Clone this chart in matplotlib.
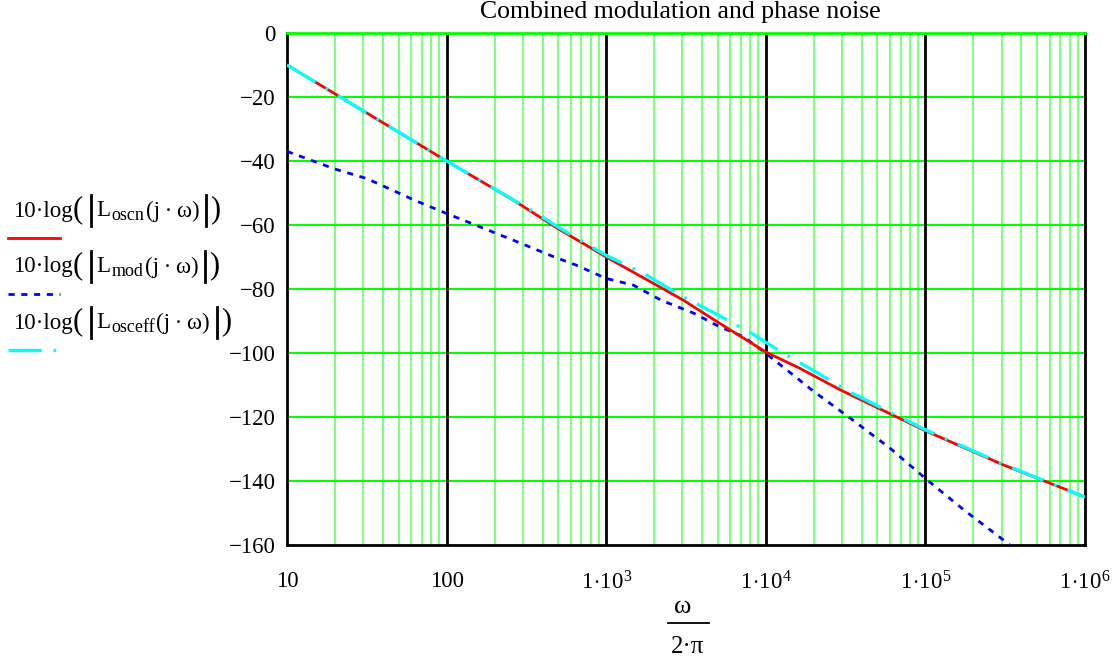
import numpy as np
import matplotlib
matplotlib.use("Agg")
import matplotlib.pyplot as plt
from matplotlib.lines import Line2D

plt.rcParams['font.family'] = ['Liberation Serif', 'DejaVu Serif']
plt.rcParams['mathtext.fontset'] = 'custom'
plt.rcParams['mathtext.rm'] = 'Liberation Serif'
plt.rcParams['mathtext.it'] = 'Liberation Serif'
plt.rcParams['mathtext.bf'] = 'Liberation Serif:bold'

# data (log10 of frequency, dB)
oscn_logf = [1.0, 1.5, 2.0, 2.42, 2.71, 3.0, 3.24, 3.48, 3.71, 4.0, 4.21, 4.47, 5.0, 5.49, 6.0]
oscn_db = [-10, -25, -40, -52.3, -61.5, -70, -76.7, -83.4, -90.7, -99.7, -104.7, -111.6, -124.3, -135, -145]

mod_logf = [1.0, 1.3, 1.5, 1.7, 1.81, 2.0, 2.23, 2.44, 2.67, 2.81, 3.0, 3.17, 3.34, 3.55, 3.71,
            3.86, 4.0, 4.21, 4.30, 4.53, 4.78, 5.0, 5.24, 5.53]
mod_db = [-37, -42.5, -45.5, -50, -52.5, -56.4, -61.0, -65.2, -69.9, -72.5, -76.7, -78.8, -83.4,
          -87.6, -91.8, -94.9, -100.1, -108.4, -112, -120.4, -129.8, -139.2, -149, -160]

osceff_logf = [1.0, 2.0, 2.5, 2.75, 3.0, 3.24, 3.48, 3.70, 3.91, 4.11, 4.32, 4.51, 5.0, 5.49, 6.0]
osceff_db = [-10, -40, -54.5, -62.2, -69.5, -75.3, -82.4, -88.1, -93.8, -100.1, -106.1, -111.8,
             -124.0, -134.8, -145]

y_ticks = [0, -20, -40, -60, -80, -100, -120, -140, -160]
x_ticks = [1e1, 1e2, 1e3, 1e4, 1e5, 1e6]
x_tick_labels = ['10', '100', r'$1\!\cdot\!10^{3}$', r'$1\!\cdot\!10^{4}$', r'$1\!\cdot\!10^{5}$', r'$1\!\cdot\!10^{6}$']
series_subscripts = ['oscn', 'mod', 'osceff']

W, H = 1120, 661

red_style = dict(color='#ff0000', lw=2, linestyle='-')
blue_style = dict(color='#0000ff', lw=2, linestyle=(0, (2.2, 2.4)))
cyan_style = dict(color='#00ffff', lw=2.4, linestyle=(0, (10, 3.5, 0.8, 3.5)))

fig = plt.figure(figsize=(11.2, 6.61), dpi=100)
ax = fig.add_axes([287 / W, 1 - 545 / H, 798 / W, 512 / H])

ax.plot(10 ** np.array(oscn_logf), oscn_db, zorder=4, **red_style)
ax.plot(10 ** np.array(mod_logf), mod_db, zorder=3, **blue_style)
ax.plot(10 ** np.array(osceff_logf), osceff_db, zorder=5, **cyan_style)

ax.set_xscale('log')
ax.set_xlim(10, 1e6)
ax.set_ylim(-160, 0)

# grid
for dec in range(1, 6):
    for m in range(2, 10):
        ax.axvline(m * 10 ** dec, color='#80ff80', lw=1.5, zorder=1)
for xt in x_ticks[1:-1]:
    ax.axvline(xt, color='black', lw=2, zorder=2)
for yt in y_ticks[1:-1]:
    ax.axhline(yt, color='#00ff00', lw=1.5, zorder=1)

ax.set_xticks(x_ticks)
ax.set_xticklabels(x_tick_labels)
ax.set_yticks(y_ticks)
ax.set_yticklabels(['0'] + ['\u2212%d' % (-v) for v in y_ticks[1:]])
ax.xaxis.set_minor_locator(plt.NullLocator())
ax.tick_params(axis='both', length=0, labelsize=16.5)
ax.tick_params(axis='x', pad=19)
ax.tick_params(axis='y', pad=8)

for s in ['left', 'right', 'bottom']:
    ax.spines[s].set_color('black')
    ax.spines[s].set_linewidth(2)
ax.spines['top'].set_color('#00ff00')
ax.spines['top'].set_linewidth(2)

fig.text(680.5 / W, 1 - 12 / H, 'Combined modulation and phase noise', fontsize=18.5,
         ha='center', va='center')

# x label as a fraction
fig.text(683 / W, 1 - 607 / H, '\u03c9', ha='center', va='center', fontsize=19)
fig.add_artist(Line2D([668 / W, 709 / W], [1 - 623 / H, 1 - 623 / H], color='black', lw=1.3))
fig.text(688 / W, 1 - 647 / H, '2\u00b7\u03c0', ha='center', va='center', fontsize=18)

# legend on the left, built piece by piece (big parens and bars like the original)
renderer = fig.canvas.get_renderer()


def put(x, y, s, size):
    t = fig.text(x / W, 1 - y / H, s, fontsize=size, ha='left', va='center')
    bb = t.get_window_extent(renderer)
    return x + bb.width


def bar(x, y):
    fig.add_artist(Line2D([x / W, x / W], [1 - (y - 16) / H, 1 - (y + 15) / H], color='black', lw=2))


styles = [red_style, blue_style, cyan_style]
text_y = [211, 267, 323]
line_y = [238, 294, 350]
for sub, st, ty, ly in zip(series_subscripts, styles, text_y, line_y):
    x = put(13, ty, '10\u00b7log', 16.5)
    x = put(x, ty - 1, '(', 22)
    bar(x + 8, ty)
    x = put(x + 14, ty, 'L', 16.5)
    x = put(x + 1, ty + 5, sub, 13)
    x = put(x + 1, ty, '(j\u2009\u00b7\u2009\u03c9)', 16.5)
    bar(x + 7, ty)
    put(x + 11, ty - 1, ')', 22)
    fig.add_artist(Line2D([8 / W, 60 / W], [1 - ly / H, 1 - ly / H], **st))

fig.savefig('out.png', dpi=100)
